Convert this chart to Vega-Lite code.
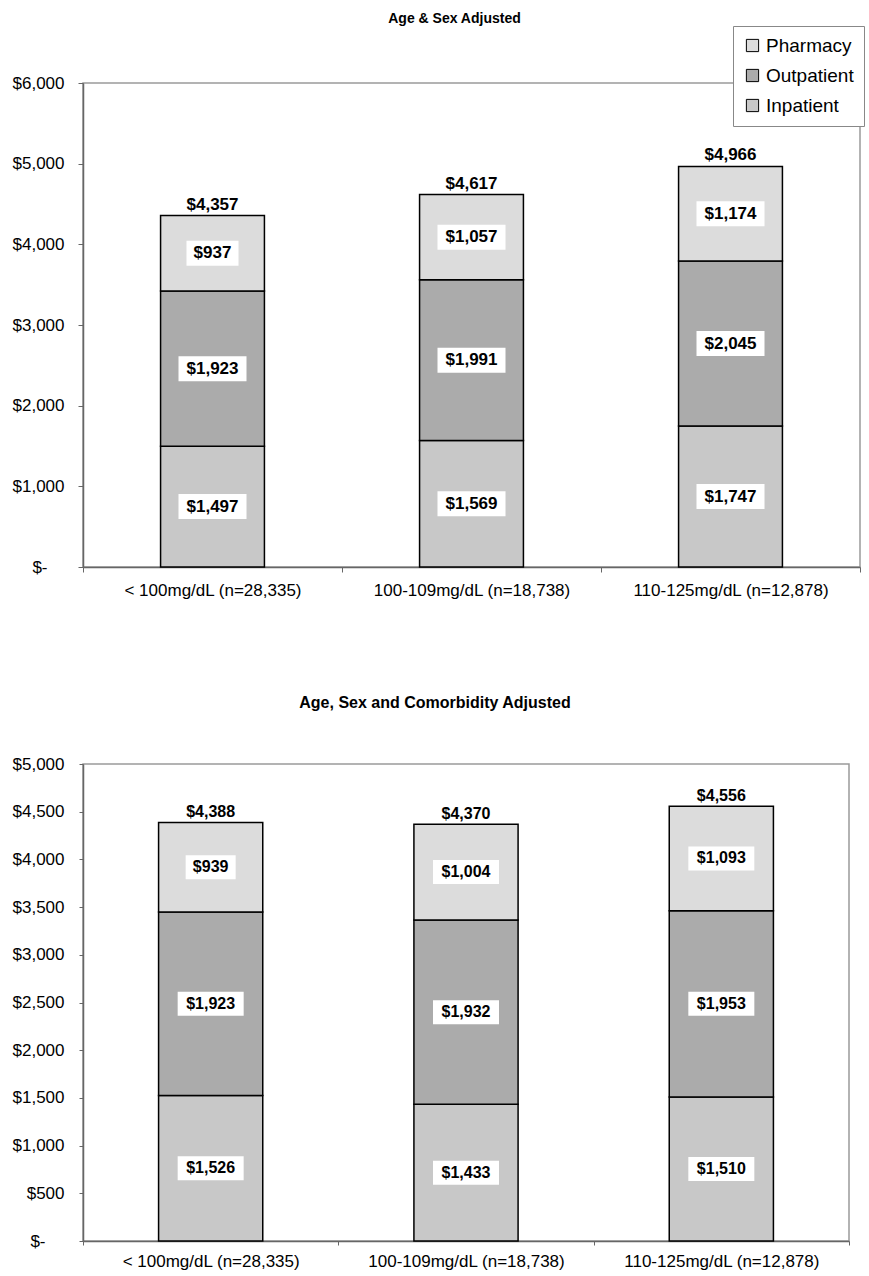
{
  "$schema": "https://vega.github.io/schema/vega-lite/v6.json",
  "background": "white",
  "padding": {"left": 11, "right": 0, "top": 11, "bottom": 2},
  "config": {
    "font": "Liberation Sans",
    "view": {"stroke": "#9a9a9a", "strokeWidth": 1.5},
    "axis": {"grid": false, "domainColor": "#666666", "domainWidth": 1.5, "tickColor": "#666666", "tickWidth": 1, "labelColor": "#000000", "labelFont": "Liberation Sans", "labelFontSize": 17, "labelLimit": 0, "title": null},
    "title": {"font": "Liberation Sans", "fontWeight": "bold", "fontSize": 14, "color": "#000000"}
  },
  "datasets": {
    "costs": [
      {"panel": "top", "group": "< 100mg/dL (n=28,335)", "component": "Inpatient", "value": 1497, "total": 4357},
      {"panel": "top", "group": "< 100mg/dL (n=28,335)", "component": "Outpatient", "value": 1923, "total": 4357},
      {"panel": "top", "group": "< 100mg/dL (n=28,335)", "component": "Pharmacy", "value": 937, "total": 4357},
      {"panel": "top", "group": "100-109mg/dL (n=18,738)", "component": "Inpatient", "value": 1569, "total": 4617},
      {"panel": "top", "group": "100-109mg/dL (n=18,738)", "component": "Outpatient", "value": 1991, "total": 4617},
      {"panel": "top", "group": "100-109mg/dL (n=18,738)", "component": "Pharmacy", "value": 1057, "total": 4617},
      {"panel": "top", "group": "110-125mg/dL (n=12,878)", "component": "Inpatient", "value": 1747, "total": 4966},
      {"panel": "top", "group": "110-125mg/dL (n=12,878)", "component": "Outpatient", "value": 2045, "total": 4966},
      {"panel": "top", "group": "110-125mg/dL (n=12,878)", "component": "Pharmacy", "value": 1174, "total": 4966},
      {"panel": "bottom", "group": "< 100mg/dL (n=28,335)", "component": "Inpatient", "value": 1526, "total": 4388},
      {"panel": "bottom", "group": "< 100mg/dL (n=28,335)", "component": "Outpatient", "value": 1923, "total": 4388},
      {"panel": "bottom", "group": "< 100mg/dL (n=28,335)", "component": "Pharmacy", "value": 939, "total": 4388},
      {"panel": "bottom", "group": "100-109mg/dL (n=18,738)", "component": "Inpatient", "value": 1433, "total": 4370},
      {"panel": "bottom", "group": "100-109mg/dL (n=18,738)", "component": "Outpatient", "value": 1932, "total": 4370},
      {"panel": "bottom", "group": "100-109mg/dL (n=18,738)", "component": "Pharmacy", "value": 1004, "total": 4370},
      {"panel": "bottom", "group": "110-125mg/dL (n=12,878)", "component": "Inpatient", "value": 1510, "total": 4556},
      {"panel": "bottom", "group": "110-125mg/dL (n=12,878)", "component": "Outpatient", "value": 1953, "total": 4556},
      {"panel": "bottom", "group": "110-125mg/dL (n=12,878)", "component": "Pharmacy", "value": 1093, "total": 4556}
    ]
  },
  "spacing": 95,
  "vconcat": [
    {
      "width": 777,
      "height": 484,
      "title": {"text": "Age & Sex Adjusted", "offset": 48, "fontSize": 14, "dx": -17},
      "data": {"name": "costs"},
      "transform": [
        {"filter": "datum.panel == 'top'"},
        {"stack": "value", "groupby": ["group"], "sort": [{"field": "component", "order": "ascending"}], "as": ["y0", "y1"]},
        {"calculate": "(datum.y0 + datum.y1) / 2", "as": "mid"}
      ],
      "encoding": {
        "x": {
          "field": "group", "type": "nominal",
          "sort": ["< 100mg/dL (n=28,335)", "100-109mg/dL (n=18,738)", "110-125mg/dL (n=12,878)"],
          "scale": {"paddingInner": 0, "paddingOuter": 0},
          "axis": {"labelAngle": 0, "tickBand": "extent", "tickSize": 5, "labelPadding": 10}
        }
      },
      "layer": [
        {
          "mark": {"type": "bar", "width": {"band": 0.401}, "stroke": "#000000", "strokeWidth": 1.5},
          "encoding": {
            "y": {"field": "y1", "type": "quantitative", "scale": {"domain": [0, 6000]},
              "axis": {"values": [0, 1000, 2000, 3000, 4000, 5000, 6000], "tickSize": 5,
                "labelPadding": {"condition": {"test": "datum.value == 0", "value": 31}, "value": 14},
                "labelExpr": "datum.value == 0 ? '$-' : format(datum.value, '$,')"}},
            "y2": {"field": "y0"},
            "color": {"field": "component", "type": "nominal",
              "scale": {"domain": ["Pharmacy", "Outpatient", "Inpatient"], "range": ["#dcdcdc", "#ababab", "#c8c8c8"]},
              "legend": {"orient": "none", "legendX": 650, "legendY": -57, "title": null, "labelFontSize": 19, "labelFont": "Liberation Sans",
                "symbolType": "square", "symbolSize": 150, "symbolStrokeColor": "#000000", "symbolStrokeWidth": 1,
                "strokeColor": "#888888", "fillColor": "white", "padding": 10, "rowPadding": 10, "labelOffset": 4}}
          }
        },
        {
          "mark": {"type": "point", "filled": true, "fill": "white", "opacity": 1, "strokeWidth": 0, "size": 10000},
          "encoding": {
            "y": {"field": "mid", "type": "quantitative"},
            "shape": {"condition": {"test": "datum.value < 1000", "value": "M-0.52,-0.25H0.52V0.25H-0.52Z"}, "value": "M-0.68,-0.25H0.68V0.25H-0.68Z"}
          }
        },
        {
          "mark": {"type": "text", "fontWeight": "bold", "fontSize": 17, "font": "Liberation Sans", "color": "#000000"},
          "encoding": {
            "y": {"field": "mid", "type": "quantitative"},
            "text": {"field": "value", "type": "quantitative", "format": "$,"}
          }
        },
        {
          "transform": [{"filter": "datum.component == 'Pharmacy'"}],
          "mark": {"type": "text", "fontWeight": "bold", "fontSize": 17, "font": "Liberation Sans", "color": "#000000", "baseline": "bottom", "dy": -2},
          "encoding": {
            "y": {"field": "y1", "type": "quantitative"},
            "text": {"field": "total", "type": "quantitative", "format": "$,"}
          }
        }
      ]
    },
    {
      "width": 766,
      "height": 477,
      "title": {"text": "Age, Sex and Comorbidity Adjusted", "offset": 44, "fontSize": 16, "dx": -31},
      "data": {"name": "costs"},
      "transform": [
        {"filter": "datum.panel == 'bottom'"},
        {"stack": "value", "groupby": ["group"], "sort": [{"field": "component", "order": "ascending"}], "as": ["y0", "y1"]},
        {"calculate": "(datum.y0 + datum.y1) / 2", "as": "mid"}
      ],
      "encoding": {
        "x": {
          "field": "group", "type": "nominal",
          "sort": ["< 100mg/dL (n=28,335)", "100-109mg/dL (n=18,738)", "110-125mg/dL (n=12,878)"],
          "scale": {"paddingInner": 0, "paddingOuter": 0},
          "axis": {"labelAngle": 0, "tickBand": "extent", "tickSize": 4, "labelPadding": 8}
        }
      },
      "layer": [
        {
          "mark": {"type": "bar", "width": {"band": 0.408}, "stroke": "#000000", "strokeWidth": 1.5},
          "encoding": {
            "y": {"field": "y1", "type": "quantitative", "scale": {"domain": [0, 5000]},
              "axis": {"values": [0, 500, 1000, 1500, 2000, 2500, 3000, 3500, 4000, 4500, 5000], "tickSize": 4,
                "labelPadding": {"condition": {"test": "datum.value == 0", "value": 34}, "value": 15},
                "labelExpr": "datum.value == 0 ? '$-' : format(datum.value, '$,')"}},
            "y2": {"field": "y0"},
            "color": {"field": "component", "type": "nominal"}
          }
        },
        {
          "mark": {"type": "point", "filled": true, "fill": "white", "opacity": 1, "strokeWidth": 0, "size": 10000},
          "encoding": {
            "y": {"field": "mid", "type": "quantitative"},
            "shape": {"condition": {"test": "datum.value < 1000", "value": "M-0.5,-0.24H0.5V0.24H-0.5Z"}, "value": "M-0.66,-0.24H0.66V0.24H-0.66Z"}
          }
        },
        {
          "mark": {"type": "text", "fontWeight": "bold", "fontSize": 16, "font": "Liberation Sans", "color": "#000000"},
          "encoding": {
            "y": {"field": "mid", "type": "quantitative"},
            "text": {"field": "value", "type": "quantitative", "format": "$,"}
          }
        },
        {
          "transform": [{"filter": "datum.component == 'Pharmacy'"}],
          "mark": {"type": "text", "fontWeight": "bold", "fontSize": 16, "font": "Liberation Sans", "color": "#000000", "baseline": "bottom", "dy": -2},
          "encoding": {
            "y": {"field": "y1", "type": "quantitative"},
            "text": {"field": "total", "type": "quantitative", "format": "$,"}
          }
        }
      ]
    }
  ]
}
